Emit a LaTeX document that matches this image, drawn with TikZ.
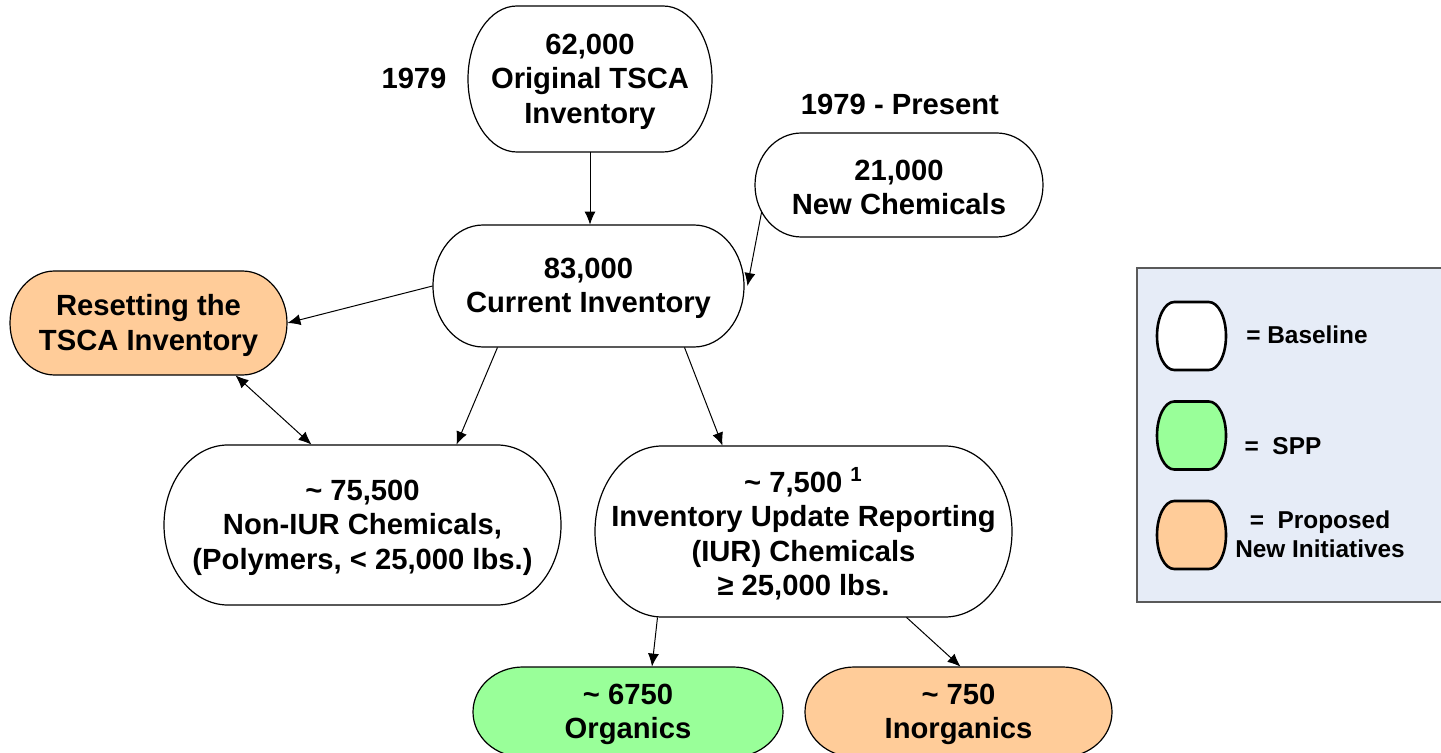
\documentclass[tikz,border=0pt]{standalone}
\usepackage{fontspec}
\setmainfont{Liberation Sans}
\usetikzlibrary{arrows.meta,calc}

\definecolor{peach}{RGB}{255,204,153}
\definecolor{mint}{RGB}{153,255,153}
\definecolor{legendbg}{RGB}{230,236,247}
\definecolor{legendframe}{RGB}{90,90,90}

% Terminator shape (flat top/bottom, elliptical ends): a named outline node
% plus a named text node set slightly low, as in the printed layout.
% #1 name, #2 cx, #3 cy, #4 width, #5 height, #6 fill, #7 line width, #8 end-cap fraction, #9 text
\newcommand\term[9]{%
  \pgfmathsetmacro\trx{#8*#4}%
  \filldraw[fill=#6, line width=#7]
    ({#2+#4/2-\trx},{-#3+#5/2})
      arc[start angle=90, end angle=-90, x radius=\trx, y radius=#5/2]
    -- ({#2-#4/2+\trx},{-#3-#5/2})
      arc[start angle=270, end angle=90, x radius=\trx, y radius=#5/2]
    -- cycle;
  \node[frame, minimum width={#4*0.5pt}, minimum height={#5*0.5pt}] (#1) at (#2,-#3) {};
  \node[boxtext] (#1-text) at (#2,{-#3-2.5}) {#9};
}

\tikzset{
  frame/.style={inner sep=0pt},
  boxtext/.style={inner sep=0pt, align=center, font=\bfseries\fontsize{14.6}{17.3}\selectfont},
  legtext/.style={inner sep=0pt, align=center, font=\bfseries\fontsize{12.2}{14.4}\selectfont},
  tip/.tip={Latex[length=6.5pt,width=5.5pt]},
  link/.style={line width=0.5pt, -tip},
  both/.style={line width=0.5pt, tip-tip},
}

\begin{document}
\begin{tikzpicture}[x=0.5pt, y=0.5pt]
\useasboundingbox (0,0) rectangle (1441,-753);

% legend panel, open on the right where it runs off the page
\fill[legendbg] (1137,-268) rectangle (1441,-602);
\draw[legendframe, line width=0.7pt] (1441,-268) -- (1137,-268) -- (1137,-602) -- (1441,-602);

% main flow
\term{orig}{590}{79}{244}{146}{white}{0.6pt}{0.2}{62,000\\Original TSCA\\Inventory}
\term{new}{899}{185}{288}{104}{white}{0.6pt}{0.161}{21,000\\New Chemicals}
\term{cur}{588.5}{286}{311}{122}{white}{0.6pt}{0.161}{83,000\\Current Inventory}
\term{reset}{148.5}{323}{277}{104}{peach}{0.6pt}{0.161}{Resetting the\\TSCA Inventory}
\term{non}{362.5}{525}{397}{160}{white}{0.6pt}{0.161}{\textasciitilde{} 75,500\\Non-IUR Chemicals,\\(Polymers, < 25,000 lbs.)}
\term{iur}{803.5}{531.5}{417}{171}{white}{0.6pt}{0.161}{\textasciitilde{} 7,500 \textsuperscript{1}\\Inventory Update Reporting\\(IUR) Chemicals\\≥ 25,000 lbs.}
\term{org}{628}{712}{310}{90}{mint}{0.6pt}{0.161}{\textasciitilde{} 6750\\Organics}
\term{ino}{958.5}{712}{307}{90}{peach}{0.6pt}{0.161}{\textasciitilde{} 750\\Inorganics}

% date labels
\node[boxtext] (y1979) at (414,-78) {1979};
\node[boxtext] (ypres) at (900,-104) {1979 - Present};

% connectors
\draw[link] (orig.south) -- (orig.south |- cur.north);
\draw[link] ($(new.west)+(7,-27)$) -- ($(cur.east)+(3,0)$);
\draw[link] (cur.west) -- (reset.east);
\draw[link] ($(cur.south)+(-91,0)$) -- ($(non.north)+(94,0)$);
\draw[link] ($(cur.south)+(96,0)$) -- ($(iur.north)+(-81,0)$);
\draw[both] ($(reset.south)+(87,0)$) -- ($(non.north)+(-51,0)$);
\draw[link] ($(iur.south)+(-146,0)$) -- ($(org.north)+(24,0)$);
\draw[link] ($(iur.south)+(103,0)$) -- ($(ino.north)+(2,0)$);

% legend entries
\term{lbase}{1191.5}{336}{69}{68}{white}{1.3pt}{0.25}{}
\term{lspp}{1191.5}{435.5}{69}{68}{mint}{1.3pt}{0.25}{}
\term{lnew}{1191.5}{535}{69}{68}{peach}{1.3pt}{0.25}{}
\node[legtext] (tbase) at (1307,-335) {= Baseline};
\node[legtext] (tspp) at (1283,-446) {=\ \ SPP};
\node[legtext] (tnew) at (1320,-534) {=\ \ Proposed\\New Initiatives};
\end{tikzpicture}
\end{document}
